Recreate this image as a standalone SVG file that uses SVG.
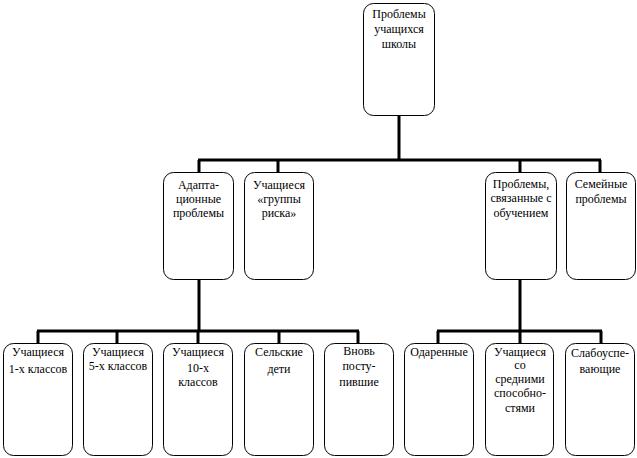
<svg xmlns="http://www.w3.org/2000/svg" width="637" height="458" viewBox="0 0 637 458">
<style>
.box{fill:#fff;stroke:#000;stroke-width:1}
.t{font-family:"Liberation Serif","Times New Roman",serif;font-size:12px;fill:#000;text-anchor:middle}
.c{stroke:#000;stroke-width:3;fill:none}
</style>
<rect width="637" height="458" fill="#fff"/>
<g id="connectors">
<path class="c" d="M399 115V160M198 160H601M199 160V172M278 160V172M520 160V172M600 160V172"/>
<path class="c" d="M199 279V331M37 331H359M38 331V343M117 331V343M198 331V343M279 331V343M358 331V343"/>
<path class="c" d="M520 279V331M437 331H602M438 331V343M520 331V343M601 331V343"/>
</g>
<g id="root"><rect class="box" x="363.5" y="3.5" width="71" height="112" rx="10"/>
<text class="t" x="399" y="18">Проблемы</text><text class="t" x="399" y="33">учащихся</text><text class="t" x="399" y="48">школы</text></g>
<g id="adapt"><rect class="box" x="163.5" y="172.5" width="70" height="107" rx="10"/>
<text class="t" x="198.5" y="189">Адапта-</text><text class="t" x="198.5" y="203">ционные</text><text class="t" x="198.5" y="217">проблемы</text></g>
<g id="risk"><rect class="box" x="244.5" y="172.5" width="69" height="107" rx="10"/>
<text class="t" x="279" y="189">Учащиеся</text><text class="t" x="279" y="203">«группы</text><text class="t" x="279" y="217">риска»</text></g>
<g id="learning"><rect class="box" x="485.5" y="172.5" width="71" height="107" rx="10"/>
<text class="t" x="521" y="188">Проблемы,</text><text class="t" x="521" y="202">связанные с</text><text class="t" x="521" y="217">обучением</text></g>
<g id="family"><rect class="box" x="566.5" y="172.5" width="69" height="107" rx="10"/>
<text class="t" x="601" y="188">Семейные</text><text class="t" x="601" y="203">проблемы</text></g>
<g id="grade1"><rect class="box" x="3.5" y="343.5" width="69" height="112" rx="10"/>
<text class="t" x="38" y="356">Учащиеся</text><text class="t" x="38" y="373">1-х классов</text></g>
<g id="grade5"><rect class="box" x="83.5" y="343.5" width="69" height="112" rx="10"/>
<text class="t" x="118" y="356">Учащиеся</text><text class="t" x="118" y="370">5-х классов</text></g>
<g id="grade10"><rect class="box" x="163.5" y="343.5" width="69" height="112" rx="10"/>
<text class="t" x="198" y="356">Учащиеся</text><text class="t" x="198" y="372">10-х</text><text class="t" x="198" y="386">классов</text></g>
<g id="rural"><rect class="box" x="244.5" y="343.5" width="69" height="112" rx="10"/>
<text class="t" x="279" y="356">Сельские</text><text class="t" x="279" y="373">дети</text></g>
<g id="new"><rect class="box" x="324.5" y="343.5" width="69" height="112" rx="10"/>
<text class="t" x="359" y="355">Вновь</text><text class="t" x="359" y="370">посту-</text><text class="t" x="359" y="386">пившие</text></g>
<g id="gifted"><rect class="box" x="404.5" y="343.5" width="69" height="112" rx="10"/>
<text class="t" x="439" y="356">Одаренные</text></g>
<g id="average"><rect class="box" x="485.5" y="343.5" width="68" height="112" rx="10"/>
<text class="t" x="520" y="356">Учащиеся</text><text class="t" x="520" y="369">со</text><text class="t" x="520" y="383">средними</text><text class="t" x="520" y="397">способно-</text><text class="t" x="520" y="412">стями</text></g>
<g id="weak"><rect class="box" x="565.5" y="343.5" width="69" height="112" rx="10"/>
<text class="t" x="600" y="357">Слабоуспе-</text><text class="t" x="600" y="373">вающие</text></g>
</svg>
